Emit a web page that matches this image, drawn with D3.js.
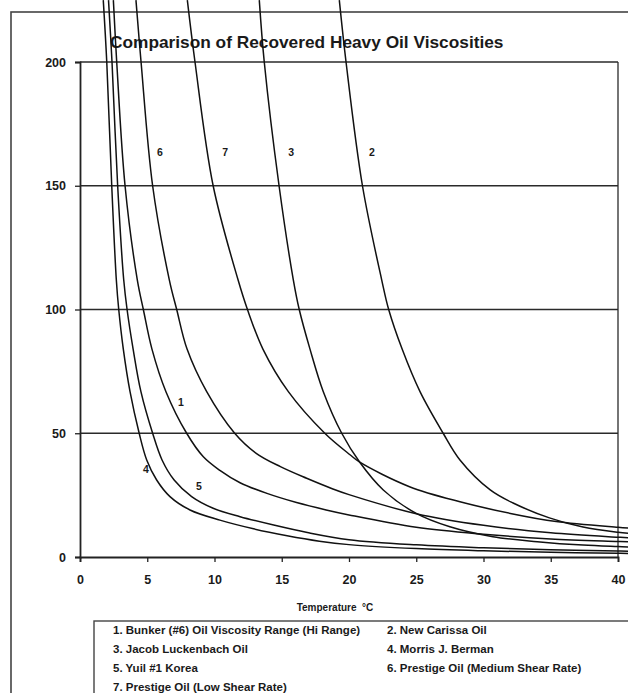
<!DOCTYPE html>
<html>
<head>
<meta charset="utf-8">
<script src="https://cdn.jsdelivr.net/npm/d3@7/dist/d3.min.js"></script>
<style>
  html, body { margin: 0; padding: 0; background: #fff; }
  svg { display: block; }
  text { font-family: "Liberation Sans", Arial, sans-serif; font-weight: bold; fill: #1a1a1a; }
</style>
</head>
<body>
<svg id="chart" width="628" height="693"></svg>
<script>
// ---- Data (temperature °C, viscosity) ----
const curve1 = [[2.48,225],[2.73,200],[3.35,150],[4.26,112],[4.71,100],[5.35,84],[6.39,66.8],[7.93,50],[9.17,40.5],[10.4,35],[11.9,30],[13.9,25.7],[16.1,22],[18.3,19],[20,17],[25,12],[30,9.2],[35,7.3],[40,6.3],[41,6.1]];
const curve2 = [[19.28,225],[19.78,200],[21.0,150],[22.43,112],[22.95,100],[23.95,84],[25.28,66.8],[27.0,50],[28.25,39.2],[30.5,27.1],[32.2,21.8],[34.9,15.8],[37.4,12.1],[40,10],[41,9.5]];
const curve3 = [[13.33,225],[13.7,200],[14.8,150],[15.86,112],[16.3,100],[17.1,84],[18.09,66.8],[19.46,50],[20.8,38.3],[22.55,27.1],[25,17.6],[27.5,12.2],[30.7,8.2],[34,6.2],[37.4,4.8],[40,4.2],[41,4.0]];
const curve4 = [[1.73,225],[1.99,200],[2.36,150],[2.7,112],[2.88,100],[3.22,84],[3.72,66.8],[4.4,50],[4.96,39.2],[5.7,31.1],[6.69,24.4],[8.18,19],[10.4,14.9],[12.9,11.4],[15.4,8.6],[17.8,6.4],[20,5.0],[25,3.4],[30,2.5],[35,1.9],[40,1.5],[41,1.45]];
const curve5 = [[2.12,225],[2.38,200],[2.8,150],[3.25,112],[3.5,100],[3.95,84],[4.53,66.8],[5.4,50],[6.1,39.2],[7.0,31.1],[8.3,24.4],[9.9,19.7],[11.9,16.3],[14.4,12.9],[16.9,9.9],[20,7.0],[25,4.9],[30,3.7],[35,2.9],[40,2.4],[41,2.3]];
const curve6 = [[4.16,225],[4.54,200],[5.4,150],[6.64,112],[7.19,100],[7.96,84],[9.42,66.8],[11.5,50],[13.1,41.9],[14.9,36.5],[16.85,31.8],[18.8,27.5],[20,25.2],[25,17.5],[30,12.8],[35,9.8],[40,8.0],[41,7.7]];
const curve7 = [[7.98,225],[8.55,200],[9.9,150],[11.75,112],[12.45,100],[13.6,84],[15.49,66.8],[18.2,50],[20.1,41.2],[20.8,38.3],[24.5,28.4],[28.25,22.3],[32,17.6],[35.4,14.3],[40,12],[41,11.6]];
const seriesList = [curve1, curve2, curve3, curve4, curve5, curve6, curve7];

const curveLabelText = ["6","7","3","2","1","4","5"];
const curveLabelTemp = [5.95, 10.8, 15.7, 21.7, 7.5, 4.9, 8.85];
const curveLabelVisc = [163.6, 163.6, 163.6, 163.6, 62.6, 35.6, 28.7];

const xTicks = [0,5,10,15,20,25,30,35,40];
const yTicks = [0,50,100,150,200];
const gridValues = [50,100,150,200];

const titleText = "Comparison of Recovered Heavy Oil Viscosities";
const xTitle = "Temperature  °C";
const legendItems = [
  "1. Bunker (#6) Oil Viscosity Range (Hi Range)",
  "2. New Carissa Oil",
  "3. Jacob Luckenbach Oil",
  "4. Morris J. Berman",
  "5. Yuil #1 Korea",
  "6. Prestige Oil (Medium Shear Rate)",
  "7. Prestige Oil (Low Shear Rate)"
];

// ---- Drawing ----
const svg = d3.select("#chart");
const x = d3.scaleLinear().domain([0,40]).range([80,618]);
const y = d3.scaleLinear().domain([0,200]).range([557,62]);

// outer chart frame
svg.append("rect").attr("x",11).attr("y",12).attr("width",700).attr("height",800)
  .attr("fill","none").attr("stroke","#444").attr("stroke-width",1.6);

// title
svg.append("text").attr("x",110).attr("y",48).attr("font-size",17.3).attr("fill","#222").text(titleText);

// gridlines
svg.append("g").selectAll("line").data(gridValues).join("line")
  .attr("x1",x(0)).attr("x2",x(40)).attr("y1",d=>y(d)).attr("y2",d=>y(d))
  .attr("stroke","#2a2a2a").attr("stroke-width",1.3);
// right border
svg.append("line").attr("x1",x(40)).attr("x2",x(40)).attr("y1",y(200)).attr("y2",y(0))
  .attr("stroke","#2a2a2a").attr("stroke-width",1.3);

// axes
const yAxis = svg.append("g").attr("transform",`translate(${x(0)},0)`)
  .call(d3.axisLeft(y).tickValues(yTicks).tickSize(5).tickPadding(9));
const xAxis = svg.append("g").attr("transform",`translate(0,${y(0)})`)
  .call(d3.axisBottom(x).tickValues(xTicks).tickSize(5).tickPadding(13));
[yAxis, xAxis].forEach(g => {
  g.select(".domain").attr("stroke","#222").attr("stroke-width",1.8);
  g.selectAll(".tick line").attr("stroke","#222").attr("stroke-width",1.3);
  g.selectAll(".tick text").attr("font-size",12.5).attr("fill","#222")
    .attr("font-family","Liberation Sans, Arial, sans-serif").attr("font-weight","bold");
});

// x axis title
svg.append("text").attr("x",335).attr("y",611).attr("text-anchor","middle")
  .attr("font-size",10).attr("xml:space","preserve").style("white-space","pre").text(xTitle);

// curves
const line = d3.line().x(d=>x(d[0])).y(d=>y(d[1])).curve(d3.curveCatmullRom.alpha(0.5));
svg.append("g").selectAll("path").data(seriesList).join("path")
  .attr("d", line).attr("fill","none").attr("stroke","#111").attr("stroke-width",1.5);

// curve labels
svg.append("g").selectAll("text").data(curveLabelText).join("text")
  .attr("x",(d,i)=>x(curveLabelTemp[i])).attr("y",(d,i)=>y(curveLabelVisc[i])+4)
  .attr("text-anchor","middle").attr("font-size",10.5).text(d=>d);

// legend
svg.append("rect").attr("x",94).attr("y",621).attr("width",600).attr("height",120)
  .attr("fill","#fff").attr("stroke","#444").attr("stroke-width",1.4);
svg.append("g").selectAll("text").data(legendItems).join("text")
  .attr("x",(d,i)=> i%2===0 ? 113 : 387)
  .attr("y",(d,i)=> 634 + Math.floor(i/2)*19)
  .attr("font-size",11.5).attr("fill","#2a2a2a").text(d=>d);
</script>
</body>
</html>
